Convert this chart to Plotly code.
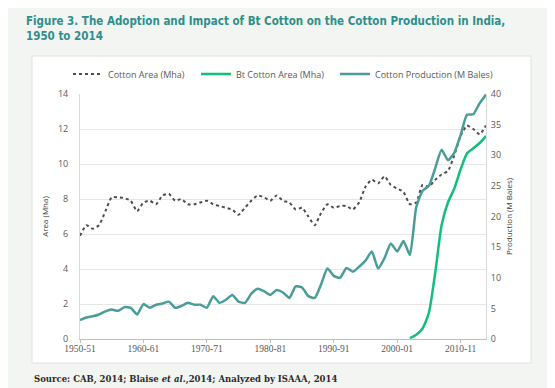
import plotly.graph_objects as go

seasons = ["1950-51","1951-52","1952-53","1953-54","1954-55","1955-56","1956-57","1957-58","1958-59","1959-60",
           "1960-61","1961-62","1962-63","1963-64","1964-65","1965-66","1966-67","1967-68","1968-69","1969-70",
           "1970-71","1971-72","1972-73","1973-74","1974-75","1975-76","1976-77","1977-78","1978-79","1979-80",
           "1980-81","1981-82","1982-83","1983-84","1984-85","1985-86","1986-87","1987-88","1988-89","1989-90",
           "1990-91","1991-92","1992-93","1993-94","1994-95","1995-96","1996-97","1997-98","1998-99","1999-00",
           "2000-01","2001-02","2002-03","2003-04","2004-05","2005-06","2006-07","2007-08","2008-09","2009-10",
           "2010-11","2011-12","2012-13","2013-14","2014-15"]

cotton_area = [5.9, 6.5, 6.3, 6.5, 7.3, 8.1, 8.1, 8.05, 7.9, 7.3,
               7.8, 7.9, 7.7, 8.2, 8.3, 7.9, 8.0, 7.7, 7.7, 7.8,
               7.9, 7.7, 7.6, 7.5, 7.4, 7.1, 7.5, 7.9, 8.2, 8.1,
               7.9, 8.2, 7.9, 7.8, 7.4, 7.5, 7.0, 6.5, 7.2, 7.7,
               7.5, 7.6, 7.6, 7.4, 7.8, 8.7, 9.1, 8.9, 9.3, 8.8,
               8.6, 8.4, 7.7, 7.8, 8.8, 8.7, 9.1, 9.4, 9.6, 10.5,
               11.6, 12.2, 12.0, 11.7, 12.2]

bt_area = [None] * 52 + [0.05, 0.25, 0.6, 1.5, 3.8, 6.5, 7.8, 8.6, 9.7, 10.6, 10.9, 11.2, 11.6]

production = [3.1, 3.5, 3.7, 4.0, 4.5, 4.8, 4.6, 5.2, 5.1, 4.0,
              5.7, 5.1, 5.6, 5.8, 6.1, 5.1, 5.4, 5.9, 5.6, 5.6,
              5.1, 7.0, 5.9, 6.4, 7.2, 6.1, 5.9, 7.4, 8.2, 7.8,
              7.2, 8.0, 7.6, 6.7, 8.6, 8.4, 7.0, 6.7, 8.9, 11.5,
              10.3, 10.0, 11.6, 11.0, 11.8, 12.8, 14.3, 11.5, 13.2, 15.6,
              14.3, 16.0, 13.7, 21.5, 24.2, 25.0, 27.9, 30.9, 29.2, 30.4,
              33.3, 36.6, 36.7, 38.5, 39.9]

x_ticks = ["1950-51", "1960-61", "1970-71", "1980-81", "1990-91", "2000-01", "2010-11"]
left_ticks = [0, 2, 4, 6, 8, 10, 12, 14]
right_ticks = [0, 5, 10, 15, 20, 25, 30, 35, 40]

title_text = "Figure 3. The Adoption and Impact of Bt Cotton on the Cotton Production in India,<br>1950 to 2014"
source_text = "Source: CAB, 2014; Blaise <i>et al.</i>,2014; Analyzed by ISAAA, 2014"

W, H = 555, 388
L, R, T, B = 72, 77, 86, 57
PW, PH = W - L - R, H - T - B

fig = go.Figure()
fig.add_trace(go.Scatter(x=seasons, y=cotton_area, name="Cotton Area (Mha)", mode="lines", legend="legend",
                         line=dict(color="#4d4d4d", width=2, dash="dot", shape="spline", smoothing=0.5)))
fig.add_trace(go.Scatter(x=seasons, y=bt_area, name="Bt Cotton Area (Mha)", mode="lines", legend="legend2",
                         line=dict(color="#10c07a", width=2.5, shape="spline", smoothing=0.6)))
fig.add_trace(go.Scatter(x=seasons, y=production, name="Cotton Production (M Bales)", mode="lines", yaxis="y2",
                         legend="legend3",
                         line=dict(color="#4a9c98", width=2.5, shape="spline", smoothing=0.5)))

leg_font = dict(family="Open Sans, Arial", size=9, color="#595959")
leg_y = (H - B - 66) / PH


def leg(px):
    return dict(orientation="h", x=(px - L) / PW, y=leg_y, xanchor="left", yanchor="middle",
                font=leg_font, bgcolor="rgba(0,0,0,0)", itemwidth=30)


fig.update_layout(
    width=W, height=H,
    margin=dict(l=L, r=R, t=T, b=B),
    paper_bgcolor="#f3f5f3",
    plot_bgcolor="white",
    showlegend=True,
    legend=leg(60), legend2=leg(188), legend3=leg(327),
    xaxis=dict(type="category", range=[0, 64], tickmode="array", tickvals=x_ticks, ticktext=x_ticks,
               showgrid=False, showline=True, linecolor="#bfbfbf", linewidth=1,
               ticks="outside", ticklen=3, tickcolor="#bfbfbf", ticklabelstandoff=-2,
               tickfont=dict(family="Liberation Serif, DejaVu Serif", size=9.5, color="#595959")),
    yaxis=dict(range=[0, 14], tickvals=left_ticks, showgrid=True, gridcolor="#e6e6e6", gridwidth=1,
               showline=True, linecolor="#d9d9d9", zeroline=False, ticklabelstandoff=9,
               tickfont=dict(family="Open Sans, Arial", size=9, color="#595959"),
               title=dict(text="Area (Mha)", font=dict(family="Open Sans, Arial", size=8, color="#404040"), standoff=8)),
    yaxis2=dict(range=[0, 40], tickvals=right_ticks, overlaying="y", side="right", showgrid=False,
                showline=True, linecolor="#d9d9d9", zeroline=False, ticklabelstandoff=2,
                tickfont=dict(family="Open Sans, Arial", size=9, color="#595959"),
                title=dict(text="Production (M Bales)", font=dict(family="Open Sans, Arial", size=8, color="#404040"), standoff=6)),
)

# white chart panel
fig.add_shape(type="rect", xref="paper", yref="paper",
              x0=(24 - L) / PW, x1=(523 - L) / PW,
              y0=(H - B - 355) / PH, y1=(H - B - 48) / PH,
              fillcolor="white", line=dict(color="#e0e0e0", width=1), layer="below")

fig.add_annotation(text=title_text, xref="paper", yref="paper",
                   x=(16 - L) / PW, y=(H - B - 4) / PH, xanchor="left", yanchor="top",
                   showarrow=False, align="left",
                   font=dict(family="DejaVu Sans Condensed, DejaVu Sans", size=11.5, color="#2e8f8c", weight="bold"))
fig.add_annotation(text=source_text, xref="paper", yref="paper",
                   x=(24 - L) / PW, y=(H - B - 371) / PH, xanchor="left", yanchor="middle",
                   showarrow=False,
                   font=dict(family="DejaVu Serif, Liberation Serif", size=8.5, color="#2b2b2b", weight="bold"))

fig.write_html("out.html")
